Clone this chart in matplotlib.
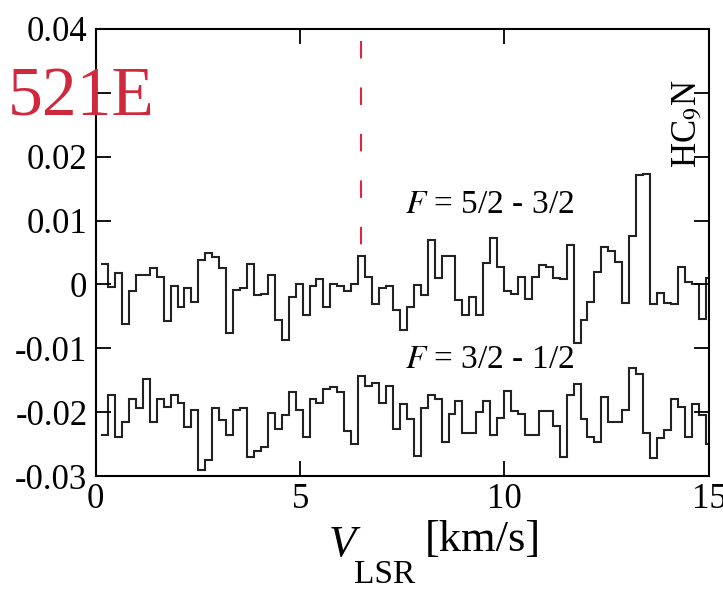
import numpy as np
import matplotlib
matplotlib.use("Agg")
import matplotlib.pyplot as plt

plt.rcParams['font.family'] = ['Liberation Serif', 'DejaVu Serif']
plt.rcParams['mathtext.fontset'] = 'stix'

# channel grid (km/s): first channel starts at V0, width DV
V0 = 0.131
DV = 0.170

# F = 5/2 - 3/2, antenna temperature in units of 1e-3 K
upper = [3.2, -0.4, 1.75, -6.2, -1.1, 1.5, 1.5, 2.5, 1.2, -5.7,
         -0.2, -3.5, -0.5, -2.8, 3.9, 4.9, 4.3, 2.5, -7.6, -0.9,
         -0.5, 3.2, -1.6, -1.5, 1.5, -5.6, -8.7, -1.9, 0.0, -4.8,
         -0.3, 0.9, -3.5, 0.0, -0.3, -1.0, 0.0, 4.5, 1.1, -3.0,
         -0.5, -0.3, -4.0, -7.1, -3.5, -0.1, -1.6, 7.0, 1.0, 4.4,
         4.5, -2.4, -4.8, -1.9, -4.8, 3.3, 7.2, 2.8, -1.0, -1.5,
         1.1, -2.3, 1.1, 3.1, 2.8, 1.0, 0.8, 6.2, -9.2, -5.6,
         -2.8, 2.0, 5.8, 5.3, 3.5, -2.85, 7.6, 17.1, 17.3, -3.0,
         -1.4, -2.85, -3.0, 2.8, 0.45, 0.1, -5.4, 1.0]

# F = 3/2 - 1/2 (offset spectrum), same units
lower = [-23.6, -17.3, -23.8, -21.5, -18.0, -19.3, -14.8, -21.5, -18.0, -19.2,
         -17.3, -18.6, -22.3, -19.7, -29.0, -27.4, -19.4, -21.2, -23.5, -19.7,
         -19.4, -27.0, -26.1, -25.5, -20.1, -22.6, -20.4, -16.9, -19.7, -23.8,
         -18.0, -18.5, -16.3, -16.0, -16.9, -22.9, -24.9, -14.3, -15.9, -15.5,
         -18.6, -15.9, -22.7, -18.7, -21.0, -26.8, -19.4, -17.3, -17.9, -24.7,
         -20.2, -18.3, -23.2, -23.2, -19.9, -18.3, -23.5, -20.9, -16.6, -19.8,
         -20.2, -23.6, -23.5, -19.8, -19.8, -22.2, -27.0, -17.3, -15.6, -21.1,
         -23.9, -24.7, -17.6, -21.6, -21.5, -19.7, -13.1, -14.0, -23.2, -27.1,
         -24.1, -22.8, -18.0, -19.2, -23.8, -18.7, -20.4, -25.0]

yticks = [-0.03, -0.02, -0.01, 0, 0.01, 0.02, 0.03, 0.04]
# the 0.03 label sits under the source name in the original panel
ytick_labels = ["-0.03", "-0.02", "-0.01", "0", "0.01", "0.02", "", "0.04"]
xticks = [0, 5, 10, 15]
xtick_labels = ["0", "5", "10", "15"]

V_LINE = 6.5

edges = V0 + DV * np.arange(len(upper) + 1)

fig = plt.figure(figsize=(7.23, 5.90), dpi=100)
ax = fig.add_axes([0.1324, 0.193, 0.848, 0.758])

ax.stairs(np.array(upper) * 1e-3, edges, baseline=None, color='#222222', lw=1.5)
ax.stairs(np.array(lower) * 1e-3, edges, baseline=None, color='#222222', lw=1.5)

ax.plot([V_LINE, V_LINE], [0.0381, 0.0060], color='#e0243c', lw=1.5,
        linestyle=(0, (8.4, 13.9)))

ax.set_xlim(0, 15)
ax.set_ylim(-0.03, 0.04)
ax.set_xticks(xticks)
ax.set_xticklabels(xtick_labels)
ax.set_yticks(yticks)
ax.set_yticklabels(ytick_labels)
ax.tick_params(direction='in', length=11, width=1.3, top=True, right=True,
               labelsize=25, pad=6)
ax.tick_params(axis='x', pad=5)
for s in ax.spines.values():
    s.set_linewidth(1.5)

ax.text(7.56, 0.01245, r"$F$ = 5/2 - 3/2", fontsize=24, va='center', ha='left')
ax.text(7.56, -0.01182, r"$F$ = 3/2 - 1/2", fontsize=24, va='center', ha='left')
ax.text(14.49, 0.0252, r"HC$_9$N", fontsize=25, rotation=90,
        va='center', ha='center')

fig.text(8 / 723, 1 - 115 / 590, "521E", color='#d0283c', fontsize=50,
         ha='left', va='baseline')

# axis label: italic V with LSR subscript
fig.text(342 / 723, 1 - 545 / 590, "V", fontsize=32, style='italic',
         ha='center', va='center')
fig.text(385 / 723, 1 - 575 / 590, "LSR", fontsize=24, ha='center', va='center')
fig.text(483 / 723, 1 - 540 / 590, "[km/s]", fontsize=32, ha='center', va='center')

fig.savefig("out.png", dpi=100, facecolor='white')
